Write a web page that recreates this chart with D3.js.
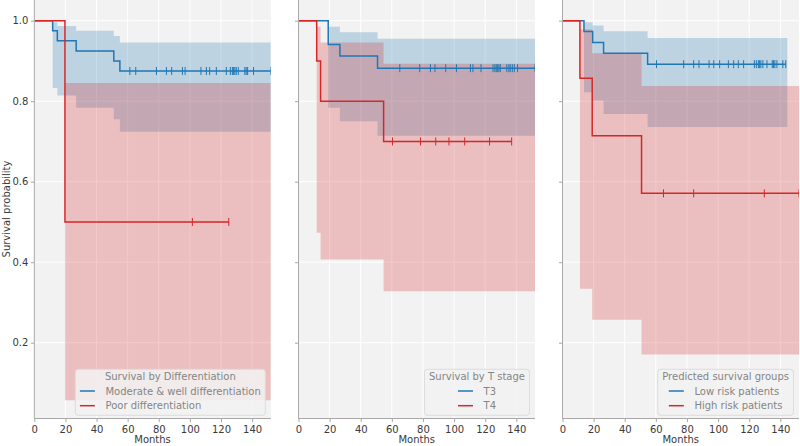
<!DOCTYPE html>
<html>
<head>
<meta charset="utf-8">
<script src="https://cdn.jsdelivr.net/npm/d3@7"></script>
<style>
  body { margin: 0; background: #fff; }
  svg { display: block; font-family: "DejaVu Sans", sans-serif; }
</style>
</head>
<body>
<svg id="chart" width="800" height="446"></svg>
<script>
// tick labels
const monthTicks = [0, 20, 40, 60, 80, 100, 120, 140];
const probTicks = [0.2, 0.4, 0.6, 0.8, 1.0];

// panel 1 - differentiation
const modTimes = [11.8, 14.8, 26.9, 51.1, 55.0];
const modSurv = [0.975, 0.95, 0.925, 0.90, 0.875];
const modUpper = [0.996, 0.987, 0.975, 0.962, 0.946];
const modLower = [0.833, 0.814, 0.784, 0.755, 0.724];
const modCensor = [61.4, 65.2, 78.5, 84.9, 88.3, 95.2, 96.9, 107.1, 110.6, 112.7, 117, 123.4, 126, 127.3, 128.1, 128.9, 129.8, 131.1, 135.3, 136.2, 137.1, 140.9, 152];
const poorTimes = [19.7];
const poorSurv = [0.5];
const poorUpper = [0.845];
const poorLower = [0.057];
const poorCensor = [101.6, 125];

// panel 2 - T stage
const t3Times = [19.1, 26.6, 50.8];
const t3Surv = [0.941, 0.912, 0.882];
const t3Upper = [0.985, 0.971, 0.955];
const t3Lower = [0.784, 0.750, 0.714];
const t3Censor = [65.1, 77.9, 84.8, 87.7, 94.6, 101.5, 110.5, 112.1, 117.3, 125, 126.2, 127.1, 128, 128.8, 129.7, 133.9, 135.2, 136.1, 137.4, 138.7, 140.8, 152];
const t4Times = [11.7, 14.2, 54.7];
const t4Surv = [0.9, 0.8, 0.7];
const t4Upper = [0.985, 0.946, 0.893];
const t4Lower = [0.473, 0.407, 0.328];
const t4Censor = [60.4, 78.4, 88.2, 96.7, 106.8, 122.8, 137];

// panel 3 - predicted risk groups
const lowTimes = [13.8, 19.4, 26.4, 54.7];
const lowSurv = [0.973, 0.946, 0.919, 0.892];
const lowUpper = [0.996, 0.988, 0.974, 0.957];
const lowLower = [0.822, 0.802, 0.768, 0.736];
const lowCensor = [60.4, 77.9, 84.3, 87.7, 94.2, 97.2, 101, 106.6, 110, 113, 116.4, 123.3, 124.6, 125.9, 126.7, 127.5, 128.8, 131.4, 134.8, 135.6, 136.5, 137.8, 141.6, 143.5];
const highTimes = [11.2, 19.1, 50.8];
const highSurv = [0.857, 0.714, 0.571];
const highUpper = [0.979, 0.919, 0.838];
const highLower = [0.334, 0.257, 0.171];
const highCensor = [64.9, 84.3, 129.7, 152];

const blue = "#1f77b4", red = "#d62728";
const xMax = 152;

const panels = [
  {title: "Survival by Differentiation", series: [
    {label: "Moderate & well differentiation", color: blue, times: modTimes, surv: modSurv, upper: modUpper, lower: modLower, censor: modCensor, lineEnd: 152, bandEnd: 152},
    {label: "Poor differentiation", color: red, times: poorTimes, surv: poorSurv, upper: poorUpper, lower: poorLower, censor: poorCensor, lineEnd: 125, bandEnd: 152}
  ]},
  {title: "Survival by T stage", series: [
    {label: "T3", color: blue, times: t3Times, surv: t3Surv, upper: t3Upper, lower: t3Lower, censor: t3Censor, lineEnd: 152, bandEnd: 152},
    {label: "T4", color: red, times: t4Times, surv: t4Surv, upper: t4Upper, lower: t4Lower, censor: t4Censor, lineEnd: 137, bandEnd: 152}
  ]},
  {title: "Predicted survival groups", series: [
    {label: "Low risk patients", color: blue, times: lowTimes, surv: lowSurv, upper: lowUpper, lower: lowLower, censor: lowCensor, lineEnd: 143.5, bandEnd: 144.5},
    {label: "High risk patients", color: red, times: highTimes, surv: highSurv, upper: highUpper, lower: highLower, censor: highCensor, lineEnd: 152, bandEnd: 152}
  ]}
];

const panelLeft = [34.3, 298.5, 562.5];
const panelW = 236.5, panelH = 418.5;

const svg = d3.select("#chart");

const x = d3.scaleLinear().domain([0, xMax]).range([0, panelW]);
const y = d3.scaleLinear().domain([0.0117, 1.0514]).range([panelH, 0]);

const survAt = (s, t) => {
  let v = 1;
  s.times.forEach((tt, i) => { if (t >= tt) v = s.surv[i]; });
  return v;
};

const line = d3.line().curve(d3.curveStepAfter).x(d => x(d[0])).y(d => y(d[1]));
const area = d3.area().curve(d3.curveStepAfter).x(d => x(d[0])).y0(d => y(d[1])).y1(d => y(d[2]));

panels.forEach((p, pi) => {
  const g = svg.append("g").attr("transform", `translate(${panelLeft[pi]},0)`);

  g.append("rect").attr("width", panelW).attr("height", panelH).attr("fill", "#f2f2f2");

  g.append("clipPath").attr("id", "clip" + pi)
    .append("rect").attr("width", panelW).attr("height", panelH);

  // grid
  g.append("g").selectAll("line").data(monthTicks.slice(1)).enter().append("line")
    .attr("x1", d => x(d)).attr("x2", d => x(d)).attr("y1", 0).attr("y2", panelH)
    .attr("stroke", "#fff").attr("stroke-width", 1);
  g.append("g").selectAll("line").data(probTicks).enter().append("line")
    .attr("x1", 0).attr("x2", panelW).attr("y1", d => y(d)).attr("y2", d => y(d))
    .attr("stroke", "#fff").attr("stroke-width", 1);

  const plot = g.append("g").attr("clip-path", `url(#clip${pi})`);

  // confidence bands
  p.series.forEach(s => {
    const pts = [[0, 1, 1]];
    s.times.forEach((t, i) => pts.push([t, s.lower[i], s.upper[i]]));
    pts.push([s.bandEnd, s.lower[s.lower.length - 1], s.upper[s.upper.length - 1]]);
    plot.append("path").datum(pts).attr("d", area)
      .attr("fill", s.color).attr("fill-opacity", 0.25);
  });

  // survival curves and censor marks
  p.series.forEach(s => {
    const pts = [[0, 1]];
    s.times.forEach((t, i) => pts.push([t, s.surv[i]]));
    pts.push([s.lineEnd, s.surv[s.surv.length - 1]]);
    plot.append("path").datum(pts).attr("d", line)
      .attr("fill", "none").attr("stroke", s.color).attr("stroke-width", 1.5);

    plot.append("g").selectAll("line").data(s.censor).enter().append("line")
      .attr("x1", d => x(d)).attr("x2", d => x(d))
      .attr("y1", d => y(survAt(s, d)) - 4).attr("y2", d => y(survAt(s, d)) + 4)
      .attr("stroke", s.color).attr("stroke-width", 1);
  });

  // axes
  const xAxis = g.append("g").attr("transform", `translate(0,${panelH})`)
    .call(d3.axisBottom(x).tickValues(monthTicks).tickSize(3.5).tickPadding(3.5).tickSizeOuter(0));
  const yAxis = g.append("g")
    .call(d3.axisLeft(y).tickValues(probTicks).tickSize(3.5).tickPadding(2.5).tickSizeOuter(0)
      .tickFormat(pi === 0 ? d3.format(".1f") : () => ""));
  [xAxis, yAxis].forEach(a => {
    a.select(".domain").attr("stroke", "#a8a8a8");
    a.selectAll(".tick line").attr("stroke", "#a8a8a8");
    a.selectAll("text").attr("fill", "#3a3a3a").attr("font-size", 10).attr("font-family", "DejaVu Sans");
  });
  // clip domain to axis range
  xAxis.select(".domain").attr("d", `M0,0H${panelW}`);
  yAxis.select(".domain").attr("d", `M0,0V${panelH}`);

  g.append("text").attr("x", panelW / 2).attr("y", 443).attr("text-anchor", "middle")
    .attr("font-size", 10).attr("fill", "#3a3a3a").text("Months");

  // legend
  const fs = 10, handleW = 15, gap = 10.6, pad = 4;
  const lg = g.append("g");
  const title = lg.append("text").attr("font-size", fs).attr("fill", "#858585").text(p.title);
  const titleW = title.node().getComputedTextLength();
  const labels = p.series.map(s => lg.append("text").attr("font-size", fs).attr("fill", "#858585").text(s.label));
  const maxLab = d3.max(labels, t => t.node().getComputedTextLength());
  const entryW = handleW + gap + maxLab;
  const innerW = Math.max(titleW, entryW);
  const boxW = innerW + 2 * pad + 1;
  const boxH = 46;
  const bx = panelW - 5.5 - boxW, by = panelH - 3.2 - boxH;
  lg.insert("rect", ":first-child").attr("x", bx).attr("y", by).attr("width", boxW).attr("height", boxH)
    .attr("rx", 3).attr("fill", "#f2f2f2").attr("fill-opacity", 0.85).attr("stroke", "#dcdcdc").attr("stroke-width", 1);
  title.attr("x", bx + boxW / 2).attr("y", by + 7.4).attr("dy", "0.35em").attr("text-anchor", "middle");
  const ex = bx + (boxW - entryW) / 2;
  p.series.forEach((s, i) => {
    const ey = by + 21.7 + i * 14.7;
    lg.append("line").attr("x1", ex).attr("x2", ex + handleW).attr("y1", ey).attr("y2", ey)
      .attr("stroke", s.color).attr("stroke-width", 1.5);
    labels[i].attr("x", ex + handleW + gap).attr("y", ey).attr("dy", "0.35em");
  });
});

svg.append("text").attr("transform", "translate(10,209) rotate(-90)")
  .attr("text-anchor", "middle").attr("font-size", 10).attr("fill", "#3a3a3a")
  .text("Survival probability");
</script>
</body>
</html>
